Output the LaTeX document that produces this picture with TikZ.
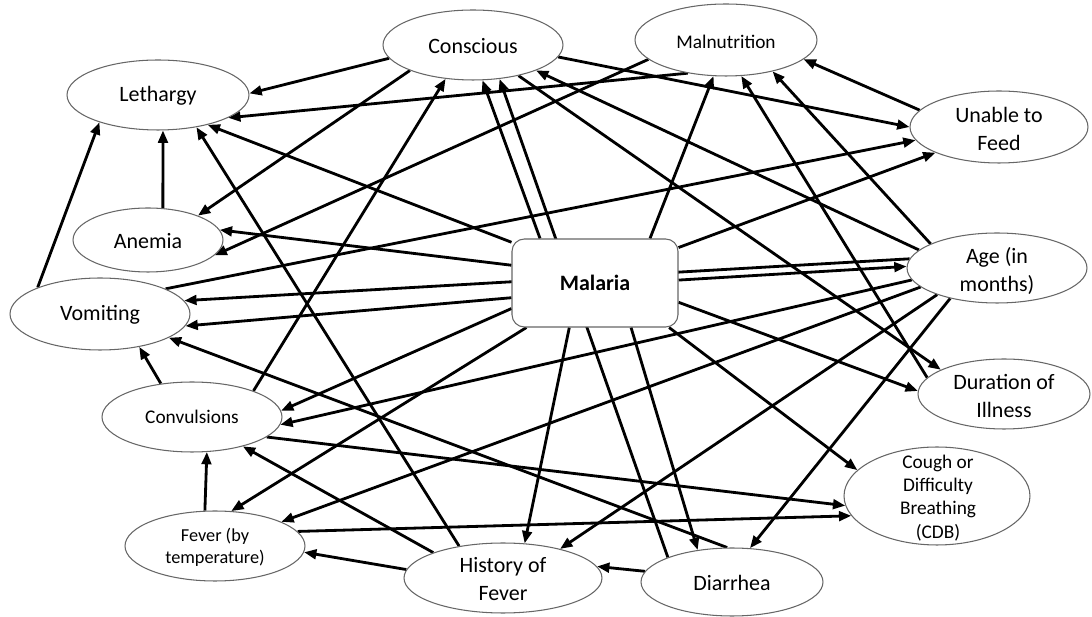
\documentclass[tikz,border=0pt]{standalone}
\usepackage{fontspec}
\setmainfont{Carlito}
\usetikzlibrary{shapes.geometric,arrows.meta}
\pgfdeclarelayer{bg}
\pgfsetlayers{bg,main}
\tikzset{
  ell/.style 2 args={ellipse, draw=black!60, line width=0.6pt, fill=white,
    minimum width=#1, minimum height=#2, inner sep=0pt},
  lbl/.style={align=center, inner sep=0pt, font=\fontsize{12.5}{15.5}\selectfont},
  lblsm/.style={align=center, inner sep=0pt, font=\fontsize{11}{13.2}\selectfont},
  lblxs/.style={align=center, inner sep=0pt, font=\fontsize{10.4}{12.4}\selectfont},
  arr/.style={line width=1.6pt, -{Triangle[length=7pt,width=5.5pt]}},
  malbox/.style={rectangle, rounded corners=7pt, draw=black!60, line width=0.6pt,
    fill=white, minimum width=3.32cm, minimum height=1.76cm, inner sep=0pt},
}
\begin{document}
\begin{tikzpicture}[x=0.02cm, y=-0.02cm]
\useasboundingbox (0,0) rectangle (1092,617);

% nodes
\node[ell={3.64cm}{1.40cm}] (leth) at (158,95) {};
\node[lbl] (lethT) at (158,96) {Lethargy};
\node[ell={3.60cm}{1.40cm}] (cons) at (473,45) {};
\node[lbl] (consT) at (473,46) {Conscious};
\node[ell={3.64cm}{1.44cm}] (maln) at (726,40) {};
\node[lblsm] (malnT) at (726,42) {Malnutrition};
\node[ell={3.56cm}{1.44cm}] (unab) at (999,127) {};
\node[lbl] (unabT) at (999,129) {Unable to\\Feed};
\node[ell={3.00cm}{1.28cm}] (anem) at (148,240) {};
\node[lbl] (anemT) at (148,241) {Anemia};
\node[ell={3.60cm}{1.44cm}] (vomi) at (100,314) {};
\node[lbl] (vomiT) at (100,315) {Vomiting};
\node[ell={3.60cm}{1.40cm}] (conv) at (192,417) {};
\node[lblsm] (convT) at (192,417) {Convulsions};
\node[ell={3.60cm}{1.40cm}] (fever) at (215,546) {};
\node[lblxs] (feverT) at (215,547) {Fever (by\\temperature)};
\node[ell={3.96cm}{1.40cm}] (hof) at (503,578) {};
\node[lbl] (hofT) at (503,579) {History of\\Fever};
\node[ell={3.64cm}{1.36cm}] (diar) at (732,582) {};
\node[lbl] (diarT) at (732,583) {Diarrhea};
\node[ell={3.72cm}{1.96cm}] (cdb) at (937,496) {};
\node[lblsm] (cdbT) at (938,498) {Cough or\\Difficulty\\Breathing\\(CDB)};
\node[ell={3.44cm}{1.40cm}] (dur) at (1004,394) {};
\node[lbl] (durT) at (1004,396) {Duration of\\Illness};
\node[ell={3.60cm}{1.40cm}] (age) at (997,268) {};
\node[lbl] (ageT) at (997,271) {Age (in\\months)};
\node[malbox] (mal) at (595,283) {};
\node[lbl] (malT) at (595,283) {\bfseries Malaria};

% connectors
\begin{pgfonlayer}{bg}
\draw[arr] (cons.189) -- (leth.1);
\draw[arr] (maln.221) -- (leth.342);
\draw[arr] (mal.154) -- (leth.329);
\draw[arr] (hof.144) -- (leth.320);
\draw[arr] (anem.65) -- (leth.278);
\draw[arr] (vomi.157) -- (leth.205);
\draw[arr] (conv.23) -- (cons.231);
\draw[arr] (mal.141) -- (cons.285);
\draw[arr] (diar.159) -- (cons.308);
\draw[arr] (age.167) -- (cons.338);
\draw[arr] (cons.202) -- (anem.26);
\draw[arr] (cons.352) -- (unab.180);
\draw[arr] (cons.326) -- (dur.159);
\draw[arr] (mal.39) -- (maln.251);
\draw[arr] (dur.168) -- (maln.293);
\draw[arr] (age.160) -- (maln.326);
\draw[arr] (unab.168) -- (maln.346);
\draw[arr] (maln.194) -- (anem.347);
\draw[arr] (mal.168) -- (anem.8);
\draw[arr] (vomi.21) -- (unab.189);
\draw[arr] (mal.23) -- (unab.202);
\draw[arr] (mal.2) -- (age.179);
\draw[arr] (age.174) -- (vomi.9);
\draw[arr] (mal.190) -- (vomi.352);
\draw[arr] (diar.98) -- (vomi.341);
\draw[arr] (conv.133) -- (vomi.320);
\draw[arr] (mal.197) -- (conv.4);
\draw[arr] (age.188) -- (conv.355);
\draw[arr] (hof.160) -- (conv.330);
\draw[arr] (fever.106) -- (conv.293);
\draw[arr] (conv.345) -- (cdb.186);
\draw[arr] (fever.10) -- (cdb.193);
\draw[arr] (mal.329) -- (cdb.162);
\draw[arr] (mal.213) -- (fever.65);
\draw[arr] (age.194) -- (fever.20);
\draw[arr] (hof.175) -- (fever.356);
\draw[arr] (mal.240) -- (hof.58);
\draw[arr] (age.204) -- (hof.27);
\draw[arr] (diar.173) -- (hof.7);
\draw[arr] (mal.309) -- (diar.137);
\draw[arr] (age.213) -- (diar.62);
\draw[arr] (mal.347) -- (dur.178);
\end{pgfonlayer}
\end{tikzpicture}
\end{document}
